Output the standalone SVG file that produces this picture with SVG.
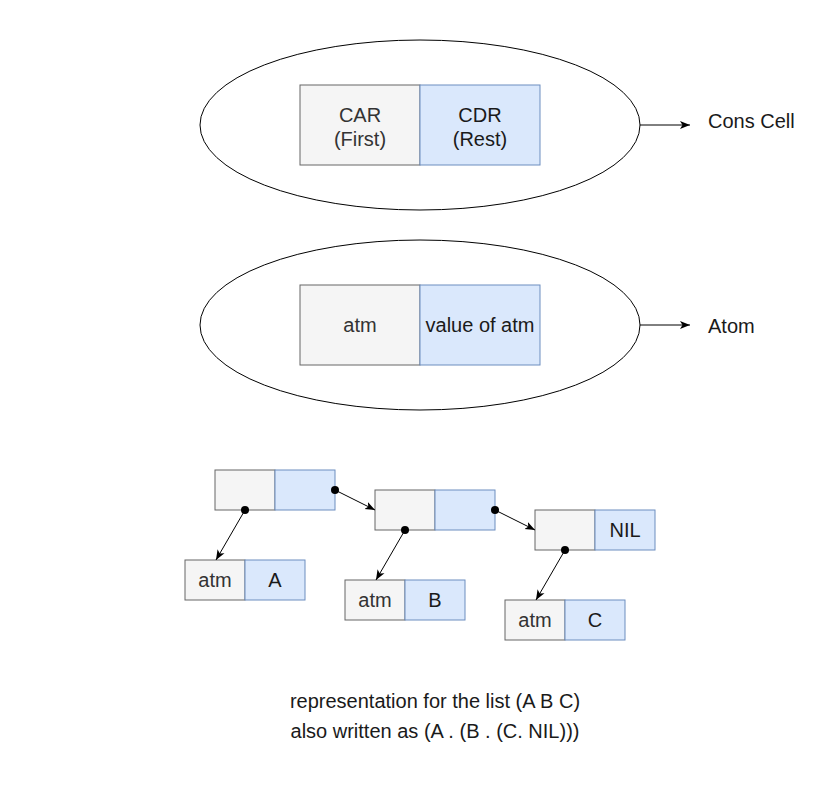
<svg xmlns="http://www.w3.org/2000/svg" width="827" height="788" viewBox="0 0 827 788">
<style>
text{font-family:"Liberation Sans",Arial,sans-serif;font-size:20px;text-anchor:middle}
.g{fill:#f5f5f5;stroke:#666666;stroke-width:1}
.b{fill:#dae8fc;stroke:#6c8ebf;stroke-width:1}
.gt{fill:#333333}
.bt{fill:#1a1a1a}
.el{fill:#ffffff;stroke:#000000;stroke-width:1}
.c{stroke:#000000;stroke-width:1;fill:none}
.lbl{text-anchor:start;fill:#1a1a1a}
</style>
<defs>
<marker id="ah" viewBox="0 0 10 10" refX="10" refY="5" markerWidth="10" markerHeight="10" markerUnits="userSpaceOnUse" orient="auto">
<path d="M0,1 L10,5 L0,9 L2.5,5 Z" fill="#000"/>
</marker>
</defs>
<rect width="827" height="788" fill="#ffffff"/>
<g id="cons-ellipse"><ellipse class="el" cx="420" cy="125" rx="220" ry="85"/></g>
<g id="atom-ellipse"><ellipse class="el" cx="420" cy="325" rx="220" ry="85"/></g>
<g id="car"><rect class="g" x="300" y="85" width="120" height="80"/><text class="gt" x="360" y="122">CAR</text><text class="gt" x="360" y="146">(First)</text></g>
<g id="cdr"><rect class="b" x="420" y="85" width="120" height="80"/><text class="bt" x="480" y="122">CDR</text><text class="bt" x="480" y="146">(Rest)</text></g>
<g id="atm"><rect class="g" x="300" y="285" width="120" height="80"/><text class="gt" x="360" y="332">atm</text></g>
<g id="value"><rect class="b" x="420" y="285" width="120" height="80"/><text class="bt" x="480" y="332">value of atm</text></g>
<g id="cons-label"><text class="lbl" x="708" y="128">Cons Cell</text></g>
<g id="atom-label"><text class="lbl" x="708" y="333">Atom</text></g>
<g id="cell1"><rect class="g" x="215" y="470" width="60" height="40"/><rect class="b" x="275" y="470" width="60" height="40"/></g>
<g id="cell2"><rect class="g" x="375" y="490" width="60" height="40"/><rect class="b" x="435" y="490" width="60" height="40"/></g>
<g id="cell3"><rect class="g" x="535" y="510" width="60" height="40"/><rect class="b" x="595" y="510" width="60" height="40"/><text class="bt" x="625" y="537">NIL</text></g>
<g id="atomA"><rect class="g" x="185" y="560" width="60" height="40"/><text class="gt" x="215" y="587">atm</text><rect class="b" x="245" y="560" width="60" height="40"/><text class="bt" x="275" y="587">A</text></g>
<g id="atomB"><rect class="g" x="345" y="580" width="60" height="40"/><text class="gt" x="375" y="607">atm</text><rect class="b" x="405" y="580" width="60" height="40"/><text class="bt" x="435" y="607">B</text></g>
<g id="atomC"><rect class="g" x="505" y="600" width="60" height="40"/><text class="gt" x="535" y="627">atm</text><rect class="b" x="565" y="600" width="60" height="40"/><text class="bt" x="595" y="627">C</text></g>
<g id="caption"><text class="bt" x="435" y="708">representation for the list (A B C)</text><text class="bt" x="435" y="738">also written as (A . (B . (C. NIL)))</text></g>
<g id="connectors">
<line class="c" x1="640" y1="125" x2="690" y2="125" marker-end="url(#ah)"/>
<line class="c" x1="640" y1="325" x2="690" y2="325" marker-end="url(#ah)"/>
<line class="c" x1="335" y1="490" x2="375" y2="510" marker-end="url(#ah)"/>
<line class="c" x1="495" y1="510" x2="535" y2="530" marker-end="url(#ah)"/>
<line class="c" x1="245" y1="510" x2="216" y2="560" marker-end="url(#ah)"/>
<line class="c" x1="405" y1="530" x2="376" y2="580" marker-end="url(#ah)"/>
<line class="c" x1="565" y1="550" x2="536" y2="600" marker-end="url(#ah)"/>
<circle cx="335" cy="490" r="4" fill="#000"/>
<circle cx="495" cy="510" r="4" fill="#000"/>
<circle cx="245" cy="510" r="4" fill="#000"/>
<circle cx="405" cy="530" r="4" fill="#000"/>
<circle cx="565" cy="550" r="4" fill="#000"/>
</g>
</svg>
